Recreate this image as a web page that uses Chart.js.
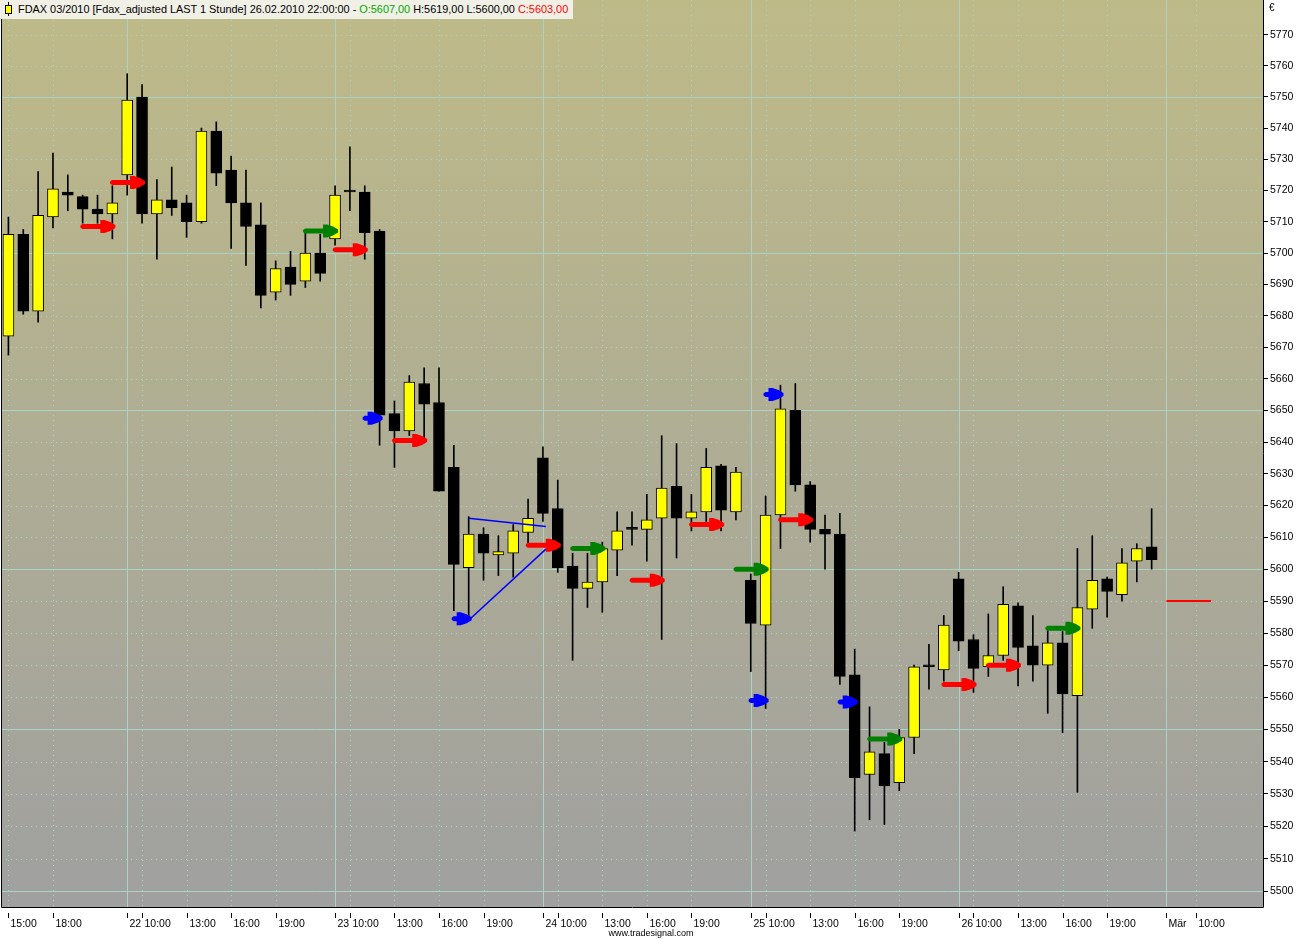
<!DOCTYPE html>
<html>
<head>
<meta charset="utf-8">
<script src="https://cdn.jsdelivr.net/npm/chart.js@4.4.1/dist/chart.umd.min.js"></script>
<style>
  html, body { margin: 0; padding: 0; background: #ffffff; }
  #wrap { position: relative; width: 1305px; height: 939px; overflow: hidden; }
  #c { position: absolute; left: 0; top: 0; width: 1305px; height: 939px; }
  #hdr { position: absolute; left: 0; top: 0; width: 573px; height: 19px; background: #F0F0E6;
         font: 10.9px "Liberation Sans", Arial, sans-serif; line-height: 19px; color: #000; white-space: nowrap; }
  #hdr .txt { position: absolute; left: 18px; top: 0; }
  #hdr .wick { position: absolute; left: 8px; top: 2px; width: 1px; height: 14px; background: #000; }
  #hdr .body { position: absolute; left: 5px; top: 5px; width: 5px; height: 7px; background: #FFFF00; border: 1px solid #000; }
  .up { color: #00A800; }
  .dn { color: #FF0000; }
</style>
</head>
<body>
<div id="wrap">
  <canvas id="c" width="1305" height="939"></canvas>
  <div id="hdr"><div class="wick"></div><div class="body"></div><div class="txt" id="hdrtxt"></div></div>
</div>
<script>
// ---------------- DATA ----------------
const instrument = 'FDAX 03/2010 [Fdax_adjusted LAST 1 Stunde]';
const sessionDates = ['19.02.2010', '22.02.2010', '23.02.2010', '24.02.2010', '25.02.2010', '26.02.2010'];
const sessionFirstHour = [15, 9, 9, 9, 9, 9];
const sessionLastHour = 22;
const futureSlots = 7;

const opens = [
  5673.5, 5706, 5681.5, 5711.5, 5719.5, 5718, 5714, 5712.5,
  5725, 5750, 5712.5, 5717, 5716, 5710, 5739, 5726.5, 5716, 5709, 5687.5, 5695.5, 5691, 5700,
  5704.5, 5719.5, 5719.5, 5707, 5649, 5643.5, 5658.5, 5652.5, 5632, 5600.5, 5611, 5604.5, 5605, 5611.5,
  5635, 5619, 5601, 5594, 5596, 5606, 5612.5, 5612.5, 5616, 5626, 5616, 5618, 5632.5, 5618,
  5596.5, 5582.5, 5617, 5650, 5626.5, 5612.5, 5611, 5567, 5536, 5542.5, 5533.5, 5547.5, 5569.5, 5568.5,
  5597, 5578, 5569.5, 5573, 5588.5, 5576, 5570, 5577, 5560.5, 5587.5, 5597, 5592, 5602.5, 5607
];
const highs = [
  5711.5, 5707.5, 5726, 5732, 5725, 5718.5, 5718.5, 5721.5,
  5757.5, 5754, 5723.5, 5727.5, 5718.5, 5740, 5742, 5731, 5726.5, 5716, 5697.5, 5700.5, 5706.5, 5706,
  5721.5, 5734, 5721.5, 5707.5, 5653, 5661, 5663.5, 5663.5, 5639, 5616.5, 5613, 5610.5, 5614, 5622,
  5638.5, 5628, 5605, 5605, 5608.5, 5618, 5618, 5623.5, 5642, 5639.5, 5623.5, 5638, 5633, 5632,
  5598.5, 5623, 5658, 5658.5, 5627.5, 5617, 5617.5, 5575, 5557, 5546, 5550, 5570, 5576.5, 5585.5,
  5599, 5579.5, 5586, 5594.5, 5589.5, 5585.5, 5581.5, 5580.5, 5606.5, 5610.5, 5597.5, 5606.5, 5608, 5619
];
const lows = [
  5667.5, 5680.5, 5678, 5708, 5713.5, 5709.5, 5709.5, 5704.5,
  5718.5, 5709.5, 5698, 5712, 5705, 5709.5, 5721.5, 5701.5, 5696, 5682.5, 5685, 5686.5, 5689, 5691,
  5702.5, 5713.5, 5698, 5639, 5632, 5642, 5640.5, 5624.5, 5587, 5584, 5596.5, 5598, 5597.5, 5608,
  5615, 5599, 5571.5, 5588, 5586.5, 5598, 5607.5, 5602.5, 5578, 5603.5, 5612, 5615, 5612, 5615.5,
  5568, 5556.5, 5606.5, 5624.5, 5608.5, 5600, 5564, 5518.5, 5522, 5520.5, 5531, 5542.5, 5562.5, 5565,
  5574.5, 5561.5, 5566.5, 5571.5, 5563.5, 5565, 5555, 5549, 5530.5, 5581.5, 5585, 5590, 5596, 5600
];
const closes = [
  5706, 5681.5, 5712, 5720.5, 5718.5, 5714, 5712.5, 5716,
  5749, 5712.5, 5717, 5714.5, 5710, 5739, 5725.5, 5716, 5708.5, 5686.5, 5695, 5690, 5700, 5693.5,
  5718.5, 5719.5, 5706.5, 5648.5, 5643.5, 5659, 5652, 5624.5, 5601.5, 5611, 5605, 5605.5, 5612, 5616,
  5617.5, 5600.5, 5594, 5596, 5606.5, 5612, 5612.5, 5615.5, 5625.5, 5616, 5618, 5632, 5618.5, 5630.5,
  5583, 5617, 5650.5, 5626.5, 5612.5, 5611, 5566.5, 5535, 5543, 5532.5, 5547.5, 5569.5, 5569.5, 5582.5,
  5577.5, 5569, 5573, 5589, 5575.5, 5570, 5577, 5561, 5588, 5596.5, 5593, 5602, 5606.5, 5603
];

// signal arrows: bar index the arrow points at, price level, kind
const arrowBars   = [7, 9, 22, 24, 25, 28, 31, 37, 40, 44, 48, 51, 51, 52, 54, 57, 60, 65, 68, 72];
const arrowPrices = [5708.5, 5722.5, 5707, 5701, 5647.5, 5640.5, 5584.5, 5607.5, 5606.5, 5596.5,
                     5614, 5600, 5559, 5655, 5615.5, 5558.5, 5547, 5564, 5570, 5581.5];
const arrowKinds  = ['sell', 'sell', 'buy', 'sell', 'stop', 'sell', 'stop', 'sell', 'buy', 'sell',
                     'sell', 'buy', 'stop', 'stop', 'sell', 'stop', 'buy', 'sell', 'sell', 'buy'];

// drawn trend lines (bar position, price)
const trendUpper = [{ x: 31, y: 5616 }, { x: 36.2, y: 5613.4 }];
const trendLower = [{ x: 31, y: 5584 }, { x: 36.2, y: 5606.3 }];
const levelLine  = [{ x: 78, y: 5590 }, { x: 81, y: 5590 }];

// axis ticks
const yTicks = [];
for (let v = 5500; v <= 5770; v += 10) yTicks.push(v);
const yMajorStep = 50;
const yMin = 5495.1, yMax = 5781.3;
const xTickBars = [0, 3, 8, 9, 12, 15, 18, 22, 23, 26, 29, 32, 36, 37, 40, 43, 46, 50, 51, 54, 57, 60, 64, 65, 68, 71, 74, 78, 80];
const xTickLabels = ['15:00', '18:00', '22', '10:00', '13:00', '16:00', '19:00', '23', '10:00', '13:00', '16:00', '19:00',
                     '24', '10:00', '13:00', '16:00', '19:00', '25', '10:00', '13:00', '16:00', '19:00',
                     '26', '10:00', '13:00', '16:00', '19:00', 'Mär', '10:00'];
const dayBoundaryBars = [8, 22, 36, 50, 64, 78];

// ---------------- BUILD ----------------
const barTimes = [];
sessionDates.forEach((d, s) => {
  for (let h = sessionFirstHour[s]; h <= sessionLastHour; h++) barTimes.push(d + ' ' + String(h).padStart(2, '0') + ':00:00');
});
const totalSlots = barTimes.length + futureSlots;

const fmt = v => v.toFixed(2).replace('.', ',');
const last = barTimes.length - 1;
document.getElementById('hdrtxt').innerHTML =
  instrument + ' ' + barTimes[last] + ' - <span class="up">O:' + fmt(opens[last]) + '</span> H:' + fmt(highs[last]) +
  ' L:' + fmt(lows[last]) + ' <span class="dn">C:' + fmt(closes[last]) + '</span>';

const bodyData = barTimes.map((t, i) => ({ x: i, y: [opens[i], closes[i]] }));
const wickData = barTimes.map((t, i) => ({ x: i, y: [lows[i], highs[i]] }));
const bodyColors = barTimes.map((t, i) => closes[i] > opens[i] ? '#FFFF00' : '#000000');

const GRID = '#A9D3C6';
const FONT = '"Liberation Sans", Arial, sans-serif';

function drawArrow(ctx, tip, y, color, short) {
  ctx.save();
  ctx.fillStyle = color;
  ctx.beginPath();
  const tail = short ? 20 : 35;
  ctx.moveTo(tip - tail + 2, y - 2.5);
  ctx.lineTo(tip - 15, y - 2.5);
  ctx.lineTo(tip - 15, y - 6.5);
  ctx.lineTo(tip - 11, y - 6.5);
  ctx.lineTo(tip - 5, y - 4.5);
  ctx.lineTo(tip, y - 1.5);
  ctx.lineTo(tip, y + 1.5);
  ctx.lineTo(tip - 5, y + 4.5);
  ctx.lineTo(tip - 11, y + 6.5);
  ctx.lineTo(tip - 15, y + 6.5);
  ctx.lineTo(tip - 15, y + 2.5);
  ctx.lineTo(tip - tail + 2, y + 2.5);
  ctx.lineTo(tip - tail, y + 1);
  ctx.lineTo(tip - tail, y - 1);
  ctx.closePath();
  ctx.fill();
  ctx.restore();
}

const decor = {
  id: 'decor',
  beforeDraw(chart) {
    const { ctx, chartArea: a, scales: { x, y } } = chart;
    ctx.save();
    const g = ctx.createLinearGradient(0, a.top, 0, a.bottom);
    g.addColorStop(0, '#BEBA88');
    g.addColorStop(1, '#A0A0A0');
    ctx.fillStyle = g;
    ctx.fillRect(a.left, a.top, a.right - a.left, a.bottom - a.top);
    ctx.lineWidth = 1;
    ctx.strokeStyle = GRID;
    yTicks.forEach(v => {
      const py = Math.round(y.getPixelForValue(v)) + 0.5;
      ctx.setLineDash(v % yMajorStep === 0 ? [] : [1, 4]);
      ctx.beginPath(); ctx.moveTo(a.left, py); ctx.lineTo(a.right, py); ctx.stroke();
    });
    xTickBars.forEach(b => {
      const px = Math.round(x.getPixelForValue(b)) + 0.5;
      ctx.setLineDash(dayBoundaryBars.includes(b) ? [] : [1, 4]);
      ctx.beginPath(); ctx.moveTo(px, a.top); ctx.lineTo(px, a.bottom); ctx.stroke();
    });
    ctx.restore();
  },
  afterDatasetsDraw(chart) {
    const { ctx, scales: { x, y } } = chart;
    arrowBars.forEach((b, i) => {
      const k = arrowKinds[i];
      const color = k === 'sell' ? '#FF0000' : (k === 'buy' ? '#008000' : '#0000FF');
      drawArrow(ctx, x.getPixelForValue(b) + 3, y.getPixelForValue(arrowPrices[i]), color, k === 'stop');
    });
  },
  afterDraw(chart) {
    const { ctx, chartArea: a, scales: { x } } = chart;
    ctx.save();
    ctx.strokeStyle = '#000';
    ctx.lineWidth = 1;
    ctx.setLineDash([]);
    ctx.beginPath();
    ctx.moveTo(a.left + 0.5, a.top); ctx.lineTo(a.left + 0.5, a.bottom + 0.5);
    ctx.lineTo(a.right + 0.5, a.bottom + 0.5); ctx.lineTo(a.right + 0.5, a.top);
    ctx.stroke();
    ctx.fillStyle = '#000';
    ctx.font = '10.5px ' + FONT;
    ctx.textAlign = 'left';
    ctx.textBaseline = 'alphabetic';
    xTickBars.forEach((b, i) => {
      const px = Math.round(x.getPixelForValue(b)) + 0.5;
      ctx.beginPath(); ctx.moveTo(px, a.bottom + 6); ctx.lineTo(px, a.bottom + 11); ctx.stroke();
      ctx.fillText(xTickLabels[i], px + 2, a.bottom + 20);
    });
    ctx.font = '10px ' + FONT;
    ctx.textBaseline = 'top';
    ctx.fillText('€', a.right + 6, 3);
    ctx.font = '9px ' + FONT;
    ctx.textAlign = 'center';
    ctx.textBaseline = 'alphabetic';
    ctx.fillText('www.tradesignal.com', 651, 936);
    ctx.restore();
  }
};

new Chart(document.getElementById('c'), {
  type: 'bar',
  data: {
    datasets: [
      { type: 'line', data: trendUpper, borderColor: '#0000FF', borderWidth: 1.5, pointRadius: 0, order: -2 },
      { type: 'line', data: trendLower, borderColor: '#0000FF', borderWidth: 1.5, pointRadius: 0, order: -2 },
      { type: 'line', data: levelLine, borderColor: '#FF0000', borderWidth: 2, pointRadius: 0, order: -2 },
      { data: bodyData, backgroundColor: bodyColors, borderColor: '#000000', borderWidth: 1, borderSkipped: false,
        barThickness: 11, minBarLength: 2, grouped: false, order: 0 },
      { data: wickData, backgroundColor: '#000000', borderWidth: 0, barThickness: 1, grouped: false, order: 1 }
    ]
  },
  options: {
    responsive: false,
    animation: false,
    devicePixelRatio: 1,
    layout: { padding: { left: 1, right: 0, top: 0, bottom: 32 } },
    plugins: { legend: { display: false }, tooltip: { enabled: false } },
    events: [],
    scales: {
      x: { type: 'linear', display: false, offset: false, min: -0.5, max: totalSlots - 0.5 },
      y: {
        type: 'logarithmic', position: 'right', min: yMin, max: yMax,
        afterBuildTicks: s => { s.ticks = yTicks.map(v => ({ value: v })); },
        afterFit: s => { s.width = 42; s.paddingTop = 0; s.paddingBottom = 0; },
        ticks: { autoSkip: false, padding: 2, color: '#000', font: { family: FONT, size: 10.5 }, callback: v => String(v) },
        grid: { drawOnChartArea: false, drawTicks: true, tickLength: 5, tickColor: '#000', color: '#000' },
        border: { display: false }
      }
    }
  },
  plugins: [decor]
});
</script>
</body>
</html>
